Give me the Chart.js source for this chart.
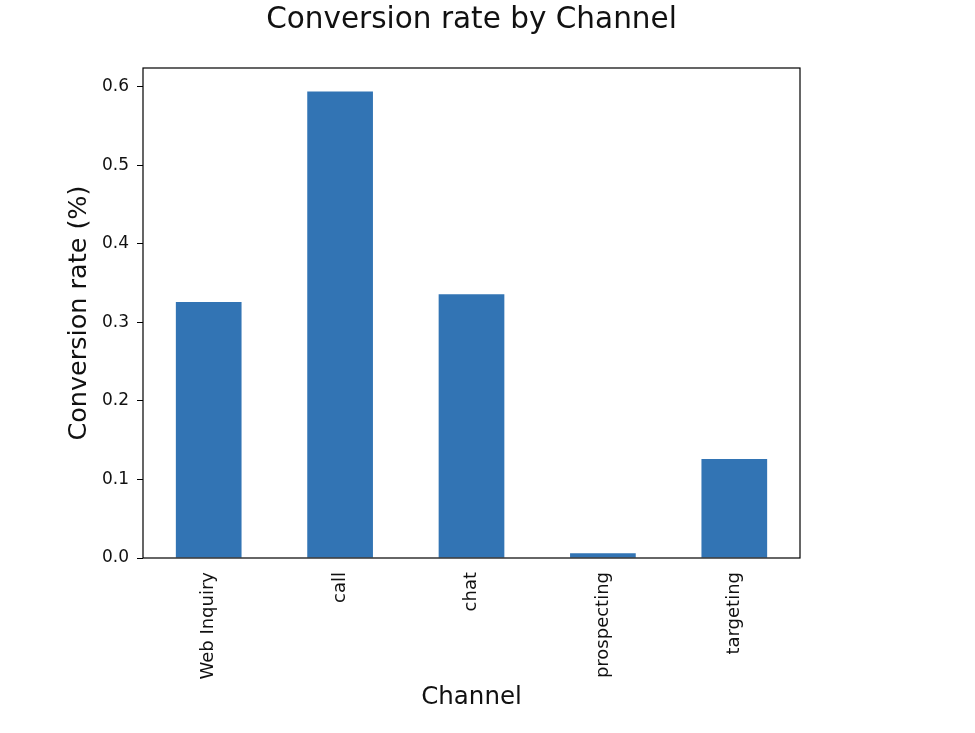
<!DOCTYPE html>
<html>
<head>
<meta charset="utf-8">
<script src="https://cdn.jsdelivr.net/npm/chart.js@4"></script>
<style>
  html, body { margin: 0; padding: 0; background: #fff; }
  #wrap { width: 975px; height: 733px; }
</style>
</head>
<body>
<div id="wrap"><canvas id="rateChart"></canvas></div>
<script>
const channels = ['Web Inquiry', 'call', 'chat', 'prospecting', 'targeting'];
const conversionRates = [0.326, 0.594, 0.336, 0.006, 0.126];
const yTicks = [0.0, 0.1, 0.2, 0.3, 0.4, 0.5, 0.6];

// matplotlib-style full frame round the plot area
const frameBox = {
    id: 'frameBox',
    afterDraw(chart) {
        const a = chart.chartArea;
        const c = chart.ctx;
        c.save();
        c.strokeStyle = '#000';
        c.lineWidth = 1.2;
        c.strokeRect(a.left, a.top, a.right - a.left, a.bottom - a.top);
        c.restore();
    }
};

document.addEventListener("DOMContentLoaded", function () {
    const ctx = document.getElementById('rateChart').getContext('2d');
    Chart.defaults.font.family = 'DejaVu Sans';
    Chart.defaults.color = '#111';

    new Chart(ctx, {
        type: 'bar',
        data: {
            labels: channels,
            datasets: [{
                label: 'Conversion rate',
                data: conversionRates,
                backgroundColor: '#3274b4',
                barPercentage: 0.5,
                categoryPercentage: 1.0
            }]
        },
        options: {
            responsive: true,
            maintainAspectRatio: false,
            animation: false,
            layout: {
                padding: { left: 64, right: 175, top: 0, bottom: 21 }
            },
            scales: {
                x: {
                    grid: { display: false, drawTicks: true, tickLength: 7 },
                    border: { display: false },
                    ticks: {
                        minRotation: 90,
                        maxRotation: 90,
                        autoSkip: false,
                        font: { size: 18 },
                        padding: 7
                    },
                    title: {
                        display: true,
                        text: 'Channel',
                        font: { size: 24.5 },
                        padding: 0
                    },
                    afterFit(scale) { scale.height = 733 - 558 - 21; }
                },
                y: {
                    min: 0,
                    max: 0.624,
                    grid: { drawOnChartArea: false, drawTicks: true, tickLength: 6, color: '#000' },
                    border: { display: false },
                    afterBuildTicks(axis) { axis.ticks = yTicks.map(v => ({ value: v })); },
                    ticks: {
                        font: { size: 17 },
                        padding: 8,
                        callback: v => Number(v).toFixed(1)
                    },
                    title: {
                        display: true,
                        text: 'Conversion rate (%)',
                        font: { size: 25.5 },
                        padding: 0
                    },
                    afterFit(scale) { scale.width = 143 - 64; }
                }
            },
            plugins: {
                legend: { display: false },
                tooltip: { enabled: false },
                title: {
                    display: true,
                    fullSize: false,
                    text: 'Conversion rate by Channel',
                    font: { size: 29.5, weight: 'normal' },
                    color: '#111',
                    padding: { top: 3, bottom: 29.6 }
                }
            }
        },
        plugins: [frameBox]
    });
});
</script>
</body>
</html>
